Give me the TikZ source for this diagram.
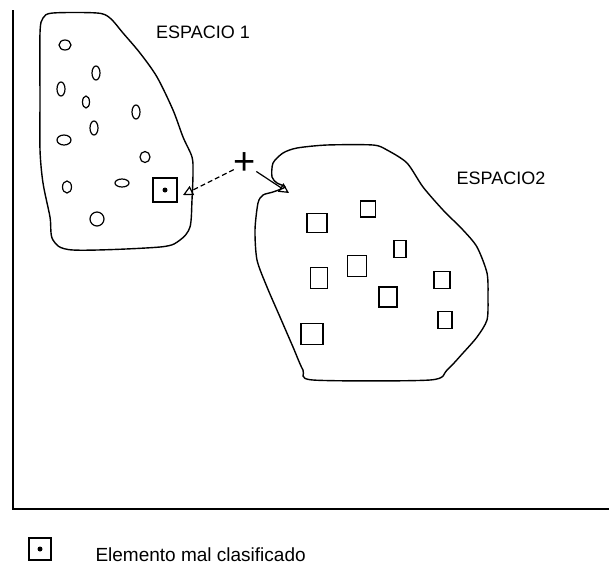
\documentclass[tikz,border=0pt]{standalone}
\usepackage{fontspec}
\setmainfont{Liberation Sans}
\usepackage{tikz}
\usetikzlibrary{arrows.meta,calc,shapes.geometric}

\tikzset{
  grano/.style={draw,line width=1.2pt,inner sep=0pt},
  caja/.style={draw,line width=1.4pt,inner sep=0pt},
  borde/.style={line width=1.4pt},
  rotulo/.style={font=\fontsize{18}{20}\selectfont}
}

\begin{document}
\begin{tikzpicture}[x=1pt,y=-1pt]
\useasboundingbox (0,0) rectangle (609,566);
% ejes
\draw[line width=1.8pt] (13,10) -- (13,509) -- (609,509);
% espacio 1
\draw[borde] plot[smooth cycle,tension=0.5] coordinates {
(43,18) (53,13) (97,13) (110,18) (123,33) (140,53) (157,77) (173,110)
(183,137) (192,157) (193,173) (192,200) (190,227) (180,240) (160,247)
(73,250) (53,240) (50,217) (43,183) (40,150) (40,100) (40,33)};
% espacio 2
\draw[borde] plot[smooth cycle,tension=0.45] coordinates {
(283,153) (297,148) (327,145) (373,145) (387,150) (407,163) (423,187)
(443,210) (463,230) (477,247) (487,273) (488,297) (487,320) (477,337)
(463,353) (447,370) (430,380) (313,380) (303,370) (293,347) (280,317)
(267,287) (257,260) (255,230) (258,203) (263,195) (273,192) (285,187)
(277,183) (272,177) (273,163)};
\node[rotulo] (e1) at (203,32) {ESPACIO 1};
\node[rotulo] (e2) at (501,178) {ESPACIO2};
% elementos del espacio 1
\node[grano,ellipse,minimum width=12pt,minimum height=10pt] (c1) at (65,45) {};
\node[grano,ellipse,minimum width=8pt,minimum height=14pt] (c2) at (96,73) {};
\node[grano,ellipse,minimum width=8pt,minimum height=14pt] (c3) at (61,89) {};
\node[grano,ellipse,minimum width=7pt,minimum height=12pt] (c4) at (86,102) {};
\node[grano,ellipse,minimum width=8pt,minimum height=14pt] (c5) at (136,112) {};
\node[grano,ellipse,minimum width=8pt,minimum height=14pt] (c6) at (94,128) {};
\node[grano,ellipse,minimum width=14pt,minimum height=10pt] (c7) at (64,140) {};
\node[grano,ellipse,minimum width=10pt,minimum height=11pt] (c8) at (145,157) {};
\node[grano,ellipse,minimum width=9pt,minimum height=12pt] (c9) at (67,187) {};
\node[grano,ellipse,minimum width=14pt,minimum height=8pt] (c10) at (122,183) {};
\node[grano,ellipse,minimum width=14pt,minimum height=14pt] (c11) at (97,219) {};
% elemento mal clasificado
\node[caja,minimum size=24pt] (mal) at (165,190) {};
\fill (mal.center) circle (2.5pt);
% elementos del espacio 2
\node[caja,minimum width=20pt,minimum height=19pt] (s1) at (317,223) {};
\node[caja,minimum width=15pt,minimum height=16pt] (s2) at (368,209) {};
\node[caja,minimum width=12pt,minimum height=17pt] (s3) at (400,249) {};
\node[caja,minimum width=19pt,minimum height=21pt] (s4) at (357,266) {};
\node[caja,minimum width=17pt,minimum height=21pt] (s5) at (319,278) {};
\node[caja,minimum width=16pt,minimum height=17pt] (s6) at (442,280) {};
\node[caja,minimum width=18pt,minimum height=20pt] (s7) at (388,297) {};
\node[caja,minimum width=14pt,minimum height=17pt] (s8) at (445,320) {};
\node[caja,minimum width=22pt,minimum height=21pt] (s9) at (312,334) {};
% nuevo elemento
\node[inner sep=0pt,font=\fontsize{38}{38}\selectfont] (nuevo) at (245,164) {+};
\coordinate (ent) at (289,193);
\coordinate (borde1) at (183,195);
\draw[line width=1.2pt,dash pattern=on 5pt off 3pt,-{Triangle[open,length=10pt,width=10pt]}]
  (nuevo) -- (borde1);
\draw[line width=1.2pt,-{Triangle[open,length=10pt,width=10pt]}]
  (nuevo) -- (ent);
% leyenda
\node[caja,minimum size=22pt] (ley) at (40,549) {};
\fill (ley.center) circle (2.5pt);
\node[anchor=west,font=\fontsize{19}{21}\selectfont] (txt) at (92,555) {Elemento mal clasificado};
\end{tikzpicture}
\end{document}
